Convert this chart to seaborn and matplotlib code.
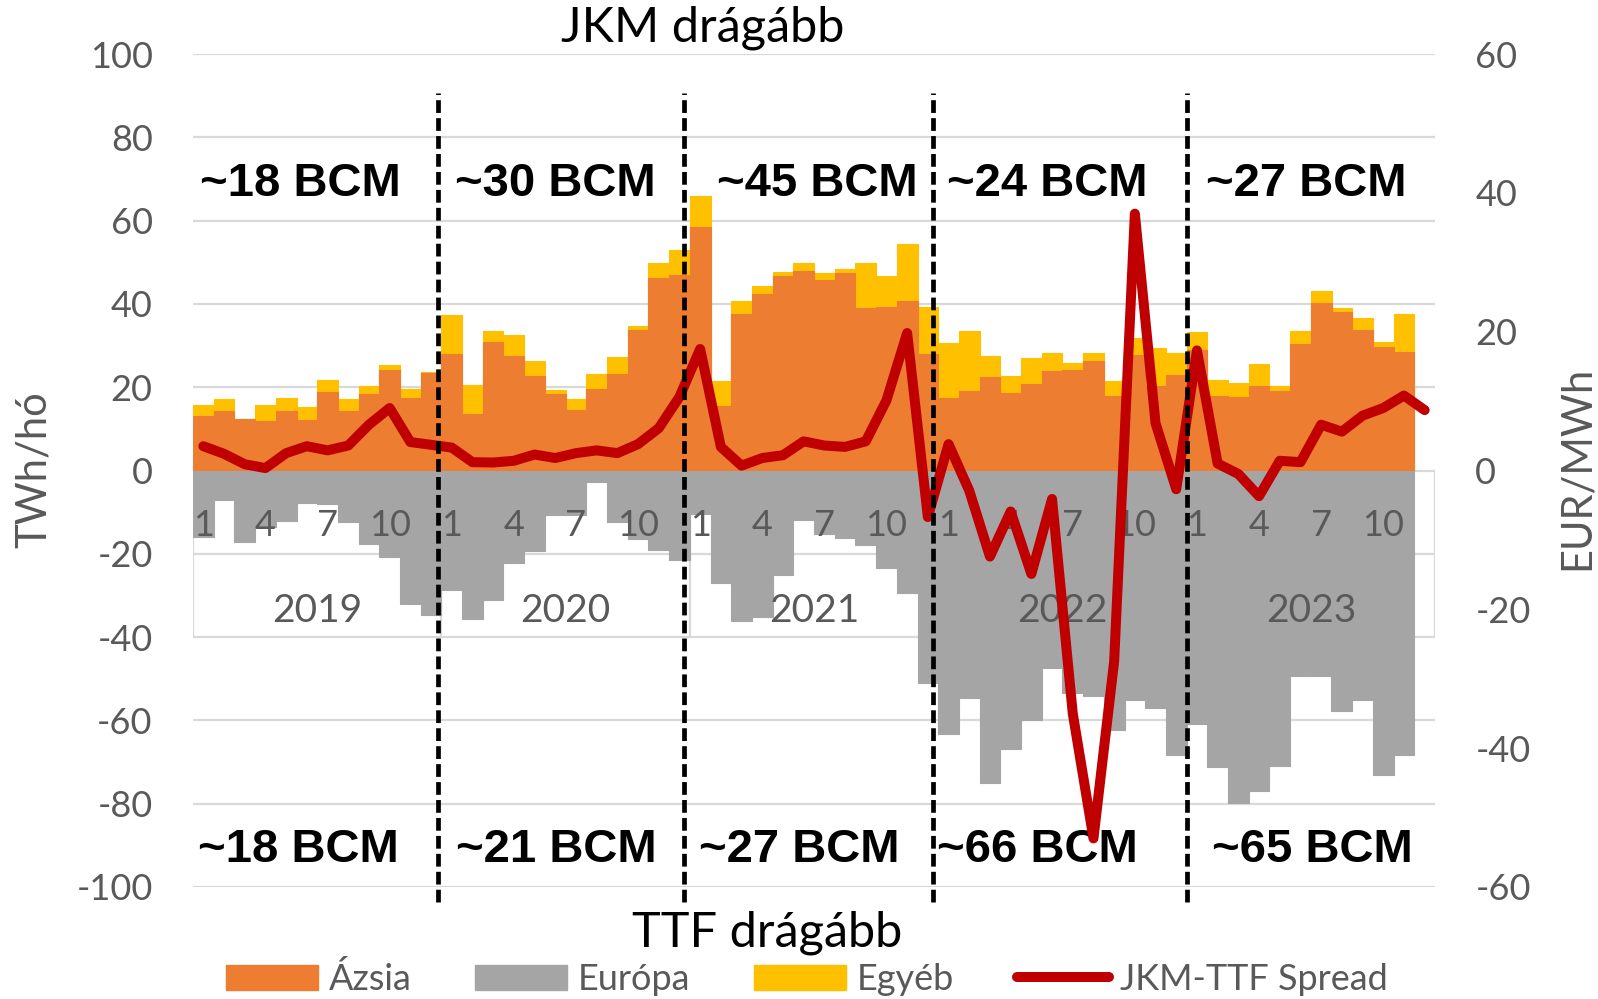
import numpy as np
import pandas as pd
import matplotlib
matplotlib.use("Agg")
import matplotlib.pyplot as plt
import seaborn as sns
from matplotlib.patches import Patch
from matplotlib.lines import Line2D

# =========================================================
# ADATOK (TWh/hó, illetve EUR/MWh)
# =========================================================
YEARS = ["2019", "2020", "2021", "2022", "2023"]
MONTH_NUMBERS = list(range(1, 13))
MONTHS = [f"{y}-{m:02d}" for y in YEARS for m in MONTH_NUMBERS]
MONTH_TICKS = [1, 4, 7, 10]

# 2019-01 ... 2023-11 (2023-12 oszlop ures)
AZSIA = [
    13.0, 14.2, 12.4, 11.8, 14.4, 12.1, 18.8, 14.2, 18.3, 24.2, 17.5, 23.4,
    28.0, 13.6, 30.8, 27.6, 22.6, 18.4, 14.6, 19.5, 23.2, 33.8, 46.2, 47.0,
    58.4, 15.6, 37.6, 42.3, 46.7, 47.8, 45.8, 47.4, 39.0, 39.2, 40.6, 28.0,
    17.4, 19.2, 22.5, 18.6, 20.7, 23.8, 24.1, 26.2, 17.8, 27.8, 20.3, 22.9,
    29.0, 18.0, 17.6, 20.4, 19.2, 30.3, 40.2, 38.0, 33.7, 29.6, 28.4,
]
EGYEB = [
    2.8, 3.0, 0.0, 4.0, 3.0, 3.1, 3.0, 3.0, 2.0, 1.2, 2.1, 0.2,
    9.4, 7.0, 2.8, 5.0, 3.8, 1.0, 2.6, 3.7, 4.0, 1.0, 3.6, 6.0,
    7.6, 5.8, 3.0, 2.1, 0.9, 2.1, 1.5, 1.0, 10.8, 7.6, 13.9, 11.2,
    13.1, 14.2, 4.9, 4.0, 6.3, 4.5, 1.7, 2.0, 3.7, 4.0, 9.2, 5.3,
    4.3, 3.8, 3.5, 5.2, 1.2, 3.2, 3.0, 1.1, 3.0, 1.3, 9.1,
]
EUROPA = [
    -16.0, -7.2, -17.2, -13.5, -12.2, -7.8, -8.0, -12.4, -17.6, -20.8, -32.0, -34.6,
    -28.6, -35.6, -31.2, -22.2, -19.4, -10.8, -10.8, -2.8, -12.4, -16.4, -19.2, -21.6,
    -10.4, -27.0, -36.1, -35.2, -25.2, -11.8, -15.2, -16.2, -17.8, -23.4, -29.4, -51.0,
    -63.2, -54.6, -75.0, -66.8, -60.0, -47.4, -53.4, -54.2, -62.2, -55.2, -57.0, -68.2,
    -60.8, -71.2, -79.8, -77.0, -71.0, -49.4, -49.4, -57.8, -55.0, -73.0, -68.4,
]
# 2019-01 ... 2023-12
SPREAD = [
    3.5, 2.4, 0.9, 0.35, 2.5, 3.5, 2.9, 3.6, 6.6, 9.0, 4.1, 3.7,
    3.3, 1.2, 1.15, 1.4, 2.3, 1.8, 2.5, 2.9, 2.5, 3.8, 6.1, 10.6,
    17.5, 3.4, 0.7, 1.8, 2.2, 4.2, 3.6, 3.4, 4.2, 10.1, 19.8, -6.7,
    3.8, -2.9, -12.4, -5.9, -14.9, -4.1, -35.0, -53.0, -27.5, 37.0, 6.8, -2.7,
    17.3, 1.0, -0.5, -3.7, 1.4, 1.2, 6.6, 5.6, 7.9, 9.0, 10.8, 8.7,
]

BCM_FELSO = ["~18 BCM", "~30 BCM", "~45 BCM", "~24 BCM", "~27 BCM"]
BCM_ALSO = ["~18 BCM", "~21 BCM", "~27 BCM", "~66 BCM", "~65 BCM"]

# =========================================================
# STILUS
# =========================================================
NARANCS = "#ED7D31"
SZURKE = "#A5A5A5"
SARGA = "#FFC000"
PIROS = "#C00000"
SZOVEG = "#595959"
RACS = "#D9D9D9"

BCM_FELSO_X = [4.68, 16.99, 29.64, 40.77, 53.28]
BCM_ALSO_X = [4.59, 17.04, 28.81, 40.28, 53.57]
SZAGGATOTT_X = [11.32, 23.20, 35.23, 47.5]


def main():
    sns.set_theme(style="white")
    plt.rcParams["font.family"] = ["Lato", "DejaVu Sans"]
    plt.rcParams["axes.unicode_minus"] = False

    fig = plt.figure(figsize=(15.98, 9.99), dpi=100)
    ax = fig.add_axes([193 / 1598, 1 - 887 / 999, 1242 / 1598, 833 / 999])

    n = len(AZSIA)
    df = pd.DataFrame({
        "honap": MONTHS[:n],
        "azsia": AZSIA,
        "egyeb": EGYEB,
        "europa": EUROPA,
    })
    df["ossz"] = df["azsia"] + df["egyeb"]

    common = dict(x="honap", order=MONTHS, width=1, saturation=1,
                  errorbar=None, linewidth=0.8, ax=ax)
    sns.barplot(data=df, y="ossz", color=SARGA, edgecolor=SARGA, **common)
    sns.barplot(data=df, y="azsia", color=NARANCS, edgecolor=NARANCS, **common)
    sns.barplot(data=df, y="europa", color=SZURKE, edgecolor=SZURKE, **common)

    ax.set_xlim(-0.5, len(MONTHS) - 0.5)
    ax.set_ylim(-100, 100)
    ax.set_yticks(range(-100, 101, 20))
    ax.set_xticks([])
    ax.set_xlabel("")
    ax.set_ylabel("")
    ax.tick_params(axis="y", length=0, pad=29, labelsize=26, labelcolor=SZOVEG)
    ax.grid(axis="y", color=RACS, lw=1.6)
    ax.set_axisbelow(True)
    for s in ax.spines.values():
        s.set_visible(False)

    # kategoria-tengely doboza
    hatarok = [-0.5] + [12 * k - 0.5 for k in range(1, len(YEARS))] + [len(MONTHS) - 0.5]
    ax.vlines(hatarok, -40, 0, color=RACS, lw=1.6, zorder=0.6)

    for i, honap in enumerate(MONTHS):
        m = int(honap[-2:])
        if m in MONTH_TICKS:
            ax.text(i, -13.2, str(m), ha="center", va="center",
                    fontsize=26, color=SZOVEG, zorder=5)
    for k, ev in enumerate(YEARS):
        ax.text(12 * k + 5.5, -33.8, ev, ha="center", va="center",
                fontsize=28, color=SZOVEG, zorder=5)

    for x, t in zip(BCM_FELSO_X, BCM_FELSO):
        ax.text(x, 68.9, t, ha="center", va="center", fontsize=34,
                fontweight="bold", family="Liberation Sans", color="black", zorder=5)
    for x, t in zip(BCM_ALSO_X, BCM_ALSO):
        ax.text(x, -91.2, t, ha="center", va="center", fontsize=34,
                fontweight="bold", family="Liberation Sans", color="black", zorder=5)

    # masodlagos tengely: JKM-TTF spread
    ax2 = ax.twinx()
    sns.lineplot(x=np.arange(len(SPREAD)), y=SPREAD, ax=ax2, color=PIROS,
                 lw=7.2, solid_capstyle="round", solid_joinstyle="round")
    ax2.set_ylim(-60, 60)
    ax2.set_yticks(range(-60, 61, 20))
    ax2.set_ylabel("")
    ax2.tick_params(axis="y", length=0, pad=29, labelsize=26, labelcolor=SZOVEG)
    ax2.grid(False)
    for s in ax2.spines.values():
        s.set_visible(False)
    ax.set_xlim(-0.5, len(MONTHS) - 0.5)

    for x in SZAGGATOTT_X:
        ax2.axvline(x, ymin=-0.0175, ymax=0.9535, color="black", lw=3.4,
                    ls=(0, (2.7, 1.1)), clip_on=False, zorder=10)

    fig.text(703 / 1598, 1 - 28 / 999, "JKM drágább", ha="center", va="center",
             fontsize=35, color="black")
    fig.text(767 / 1598, 1 - 933 / 999, "TTF drágább", ha="center", va="center",
             fontsize=35, color="black")
    fig.text(34 / 1598, 1 - 470 / 999, "TWh/hó", ha="center", va="center",
             rotation=90, fontsize=30, color=SZOVEG)
    fig.text(1577 / 1598, 1 - 468 / 999, "EUR/MWh", ha="center", va="center",
             rotation=90, fontsize=30, color=SZOVEG)

    handles = [
        Patch(color=NARANCS, label="Ázsia"),
        Patch(color=SZURKE, label="Európa"),
        Patch(color=SARGA, label="Egyéb"),
        Line2D([], [], color=PIROS, lw=7.2, solid_capstyle="round", label="JKM-TTF Spread"),
    ]
    fig.legend(handles=handles, loc="center", bbox_to_anchor=(0.505, 1 - 979 / 999),
               ncol=4, frameon=False, fontsize=26, handlelength=2.55,
               handleheight=0.7, handletextpad=0.3, columnspacing=1.75,
               labelcolor=SZOVEG, borderpad=0, borderaxespad=0)

    fig.savefig("out.png", dpi=100)
    plt.close(fig)


if __name__ == "__main__":
    main()
